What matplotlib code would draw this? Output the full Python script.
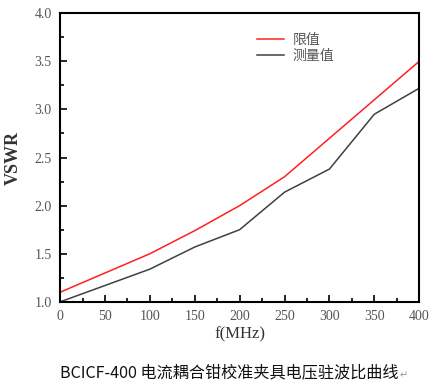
import matplotlib
matplotlib.use("Agg")
import matplotlib.pyplot as plt
from matplotlib.ticker import MultipleLocator

# values
freq = [0, 50, 100, 150, 200, 250, 300, 350, 400]
limit = [1.10, 1.30, 1.50, 1.74, 2.00, 2.30, 2.70, 3.10, 3.50]
measured = [1.00, 1.17, 1.34, 1.57, 1.75, 2.14, 2.38, 2.95, 3.22]
legend_names = ["限值", "测量值"]
caption = "BCICF-400 电流耦合钳校准夹具电压驻波比曲线"

fig = plt.figure(figsize=(4.45, 3.88), dpi=100)
ax = fig.add_axes([0.135, 0.222, 0.807, 0.744])

ax.plot(freq, limit, color="#ff2020", lw=1.1, label=legend_names[0])
ax.plot(freq, measured, color="#404040", lw=1.1, label=legend_names[1])

ax.set_xlim(0, 400)
ax.set_ylim(1.0, 4.0)
ax.xaxis.set_major_locator(MultipleLocator(50))
ax.xaxis.set_minor_locator(MultipleLocator(25))
ax.yaxis.set_major_locator(MultipleLocator(0.5))
ax.yaxis.set_minor_locator(MultipleLocator(0.25))
ax.tick_params(which="both", direction="in", top=False, right=False,
               labelsize=10, labelcolor="#555555", width=1.2)
ax.tick_params(which="major", length=5, pad=6)
ax.tick_params(which="minor", length=3)
for lab in ax.get_xticklabels() + ax.get_yticklabels():
    lab.set_family("Liberation Serif")
for s in ax.spines.values():
    s.set_linewidth(1.5)

ax.set_ylabel("VSWR", family="Liberation Serif", fontsize=13,
              fontweight="bold", color="#333333", labelpad=9)
ax.set_xlabel("f(MHz)", family="Liberation Serif", fontsize=12,
              color="#333333", labelpad=2)

leg = ax.legend(loc="upper left", bbox_to_anchor=(0.52, 0.965), frameon=False,
                prop={"family": ["Noto Sans CJK SC", "DejaVu Sans"], "size": 10},
                handlelength=2.0, handletextpad=0.6, labelspacing=0.15,
                borderpad=0.2)
for t in leg.get_texts():
    t.set_color("#555555")

fig.text(0.135, 0.04, caption, ha="left", va="center", fontsize=11.6,
         family=["Noto Sans CJK SC", "DejaVu Sans"], color="#111111")
fig.text(0.898, 0.032, "↵", ha="left", va="center", fontsize=7,
         family=["DejaVu Sans"], color="#999999")

fig.savefig("out.png", dpi=100)
